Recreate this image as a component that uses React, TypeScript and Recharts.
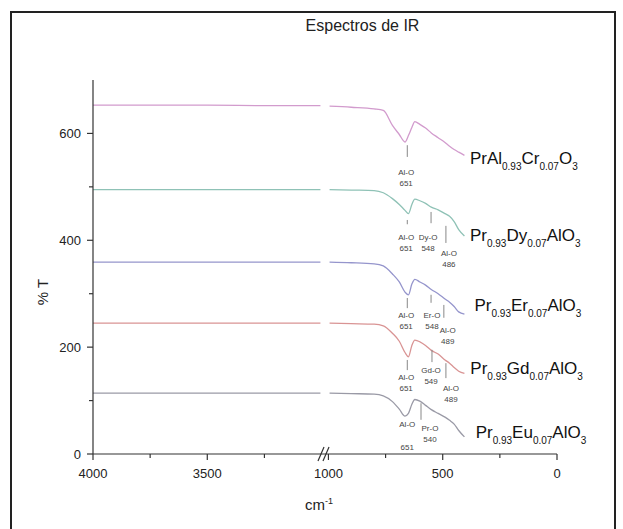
import { LineChart, Line, XAxis, YAxis, ReferenceLine, ReferenceDot } from 'recharts';

// IR spectra of doped PrAlO3 samples (broken wavenumber axis)
const LEFT_WN = [4000, 3750, 3500, 3250, 3005];
const RIGHT_WN = [995, 900, 800, 760, 720, 690, 665, 650, 635, 622, 600, 575, 550, 520, 490, 470, 450, 430, 405];
const WAVENUMBERS = [...LEFT_WN, ...RIGHT_WN];

const CR_T = [653, 653, 653, 652, 652, 651, 649, 646, 643, 615, 598, 584, 596, 611, 622, 617, 610, 601, 592, 583, 576, 570, 565, 559];
const DY_T = [495, 495, 495, 495, 495, 495, 494, 493, 489, 478, 467, 456, 450, 467, 477, 474, 469, 462, 457, 450, 445, 435, 420, 408];
const ER_T = [359, 359, 359, 359, 359, 359, 358, 356, 352, 337, 322, 303, 298, 318, 327, 322, 316, 308, 300, 290, 284, 276, 266, 262];
const GD_T = [245, 245, 245, 245, 245, 245, 244, 243, 240, 226, 211, 190, 182, 203, 213, 210, 203, 194, 187, 176, 170, 162, 155, 151];
const EU_T = [114, 114, 114, 114, 114, 114, 113, 112, 109, 98, 84, 71, 76, 93, 102, 99, 91, 83, 76, 69, 63, 56, 44, 32];

const X_MAJOR = [4000, 3500, 1000, 500, 0];
const X_MINOR = [3750, 3250, 750, 250];
const Y_TICKS = [0, 100, 200, 300, 400, 500, 600];

// compound names: main / subscript alternating
const NAMES = [
  ['PrAl', '0.93', 'Cr', '0.07', 'O', '3'],
  ['Pr', '0.93', 'Dy', '0.07', 'AlO', '3'],
  ['Pr', '0.93', 'Er', '0.07', 'AlO', '3'],
  ['Pr', '0.93', 'Gd', '0.07', 'AlO', '3'],
  ['Pr', '0.93', 'Eu', '0.07', 'AlO', '3'],
];
const NAME_POS = [
  { w: 381, v: 554 },
  { w: 381, v: 410 },
  { w: 361, v: 279 },
  { w: 379, v: 161 },
  { w: 356, v: 41 },
];

// band assignments: marker line (w, y1..y2) and two-line caption at (tw, ty)
const BANDS = [
  { w: 655, y1: 578, y2: 556, tw: 660, ty: 528, bond: 'Al-O', num: '651' },
  { w: 655, y1: 438, y2: 430, tw: 660, ty: 406, bond: 'Al-O', num: '651' },
  { w: 551, y1: 453, y2: 432, tw: 564, ty: 406, bond: 'Dy-O', num: '548' },
  { w: 486, y1: 427, y2: 395, tw: 473, ty: 376, bond: 'Al-O', num: '486' },
  { w: 655, y1: 292, y2: 273, tw: 660, ty: 260, bond: 'Al-O', num: '651' },
  { w: 551, y1: 298, y2: 283, tw: 547, ty: 260, bond: 'Er-O', num: '548' },
  { w: 495, y1: 279, y2: 255, tw: 478, ty: 232, bond: 'Al-O', num: '489' },
  { w: 655, y1: 176, y2: 157, tw: 660, ty: 144, bond: 'Al-O', num: '651' },
  { w: 547, y1: 195, y2: 172, tw: 551, ty: 157, bond: 'Gd-O', num: '549' },
  { w: 486, y1: 170, y2: 142, tw: 464, ty: 124, bond: 'Al-O', num: '489' },
  { w: 595, y1: 95, y2: 64, tw: 556, ty: 49, bond: 'Pr-O', num: '540' },
];
const EU_ALO = { tw: 655, ty: 56, bond: 'Al-O', num: '651' };

const GAP = 30;
const toAxis = (w: number) => (w >= 2000 ? 4000 - w : 1000 + GAP + (1000 - w));
const BREAK_T = 1000 + GAP / 2;

const SERIES = [
  { key: 'cr', values: CR_T, color: '#d29bcd' },
  { key: 'dy', values: DY_T, color: '#8fc2b6' },
  { key: 'er', values: ER_T, color: '#9595cc' },
  { key: 'gd', values: GD_T, color: '#d99494' },
  { key: 'eu', values: EU_T, color: '#9a9aa6' },
];

const rows: any[] = [];
WAVENUMBERS.forEach((w, i) => {
  if (i === LEFT_WN.length) {
    const gap: any = { t: BREAK_T };
    SERIES.forEach((s) => (gap[s.key] = null));
    rows.push(gap);
  }
  const r: any = { t: toAxis(w) };
  SERIES.forEach((s) => (r[s.key] = s.values[i]));
  rows.push(r);
});

const FONT = 'Arial, "Liberation Sans", sans-serif';
const AXIS = '#333';

function XTick(props: any) {
  const { x, y, payload } = props;
  const w = [...X_MAJOR, ...X_MINOR].find((v) => toAxis(v) === payload.value);
  const major = X_MAJOR.includes(w as number);
  return (
    <g>
      <line x1={x} x2={x} y1={y} y2={y + (major ? 6 : 4)} stroke={AXIS} strokeWidth={1.2} />
      {major && (
        <text x={x} y={y + 24} textAnchor="middle" fontSize={13} fill="#222" fontFamily={FONT}>
          {w}
        </text>
      )}
    </g>
  );
}

function YTick(props: any) {
  const { x, y, payload } = props;
  const major = payload.value % 200 === 0;
  return (
    <g>
      <line x1={x - (major ? 6 : 4)} x2={x} y1={y} y2={y} stroke={AXIS} strokeWidth={1.2} />
      {major && (
        <text x={x - 12} y={y + 4.5} textAnchor="end" fontSize={13} fill="#222" fontFamily={FONT}>
          {payload.value}
        </text>
      )}
    </g>
  );
}

function center(props: any) {
  const vb = props.viewBox || {};
  return { cx: vb.x + (vb.width || 0) / 2, cy: vb.y + (vb.height || 0) / 2 };
}

function NameLabel(parts: string[]) {
  return (props: any) => {
    const { cx, cy } = center(props);
    return (
      <text x={cx} y={cy + 6} fontSize={17} fill="#111" fontFamily={FONT}>
        {parts.map((p, i) =>
          i % 2 === 0 ? (
            <tspan key={i} fontSize={17} dy={i === 0 ? 0 : -6}>
              {p}
            </tspan>
          ) : (
            <tspan key={i} fontSize={10} dy={6}>
              {p}
            </tspan>
          )
        )}
      </text>
    );
  };
}

function BandLabel(bond: string, num: string, numOffset = 11) {
  return (props: any) => {
    const { cx, cy } = center(props);
    return (
      <text textAnchor="middle" fontSize={8} fill="#444" fontFamily={FONT}>
        <tspan x={cx} y={cy + 3}>
          {bond}
        </tspan>
        <tspan x={cx} y={cy + 3 + numOffset}>
          {num}
        </tspan>
      </text>
    );
  };
}

function BreakMark(props: any) {
  const { cx, cy } = center(props);
  return (
    <g stroke={AXIS} strokeWidth={1.2}>
      <line x1={cx - 7} y1={cy + 7} x2={cx - 1} y2={cy - 7} />
      <line x1={cx - 2} y1={cy + 7} x2={cx + 4} y2={cy - 7} />
    </g>
  );
}

export default function App() {
  return (
    <div style={{ position: 'absolute', left: 0, top: 0, width: 623, height: 529, background: '#fff', overflow: 'hidden' }}>
      <div
        style={{
          position: 'absolute',
          left: 10,
          top: 11,
          width: 602,
          height: 530,
          borderLeft: '2px solid #222',
          borderTop: '2px solid #222',
          borderRight: '2px solid #222',
        }}
      />
      <div style={{ position: 'absolute', left: 0, width: 623, top: 17, textAlign: 'center', paddingLeft: 102, boxSizing: 'border-box', fontFamily: FONT, fontSize: 16, color: '#222' }}>
        Espectros de IR
      </div>
      <div
        style={{
          position: 'absolute',
          left: 42,
          top: 292,
          transform: 'translate(-50%, -50%) rotate(-90deg)',
          fontFamily: FONT,
          fontSize: 15,
          color: '#222',
          whiteSpace: 'nowrap',
        }}
      >
        % T
      </div>
      <div style={{ position: 'absolute', left: 305, top: 496, fontFamily: FONT, fontSize: 15, color: '#222' }}>
        cm<sup style={{ fontSize: 9 }}>-1</sup>
      </div>
      <div style={{ position: 'absolute', left: 0, top: 0 }}>
        <LineChart width={623} height={529} data={rows} margin={{ top: 80, right: 66, bottom: 45, left: 43 }}>
          <XAxis
            type="number"
            dataKey="t"
            domain={[0, toAxis(0)]}
            ticks={[...X_MAJOR, ...X_MINOR].map(toAxis)}
            tick={<XTick />}
            tickLine={false}
            tickSize={0}
            tickMargin={0}
            height={30}
            axisLine={{ stroke: AXIS, strokeWidth: 1.2 }}
            interval={0}
          />
          <YAxis
            type="number"
            domain={[0, 700]}
            ticks={Y_TICKS}
            tick={<YTick />}
            tickLine={false}
            tickSize={0}
            tickMargin={0}
            width={50}
            axisLine={{ stroke: AXIS, strokeWidth: 1.2 }}
            interval={0}
          />
          {SERIES.map((s) => (
            <Line
              key={s.key}
              dataKey={s.key}
              type="monotone"
              stroke={s.color}
              strokeWidth={1.3}
              dot={false}
              connectNulls={false}
              isAnimationActive={false}
            />
          ))}
          {BANDS.map((b, i) => (
            <ReferenceLine
              key={`l${i}`}
              segment={[
                { x: toAxis(b.w), y: b.y1 },
                { x: toAxis(b.w), y: b.y2 },
              ]}
              stroke="#888"
              strokeWidth={1}
            />
          ))}
          {BANDS.map((b, i) => (
            <ReferenceDot
              key={`d${i}`}
              x={toAxis(b.tw)}
              y={b.ty}
              r={0}
              fill="none"
              stroke="none"
              ifOverflow="visible"
              label={{ content: BandLabel(b.bond, b.num) }}
            />
          ))}
          <ReferenceDot
            x={toAxis(EU_ALO.tw)}
            y={EU_ALO.ty}
            r={0}
            fill="none"
            stroke="none"
            ifOverflow="visible"
            label={{ content: BandLabel(EU_ALO.bond, EU_ALO.num, 23) }}
          />
          {NAMES.map((n, i) => (
            <ReferenceDot
              key={`n${i}`}
              x={toAxis(NAME_POS[i].w)}
              y={NAME_POS[i].v}
              r={0}
              fill="none"
              stroke="none"
              ifOverflow="visible"
              label={{ content: NameLabel(n) }}
            />
          ))}
          <ReferenceDot x={BREAK_T} y={0} r={0} fill="none" stroke="none" ifOverflow="visible" label={{ content: BreakMark }} />
        </LineChart>
      </div>
    </div>
  );
}
